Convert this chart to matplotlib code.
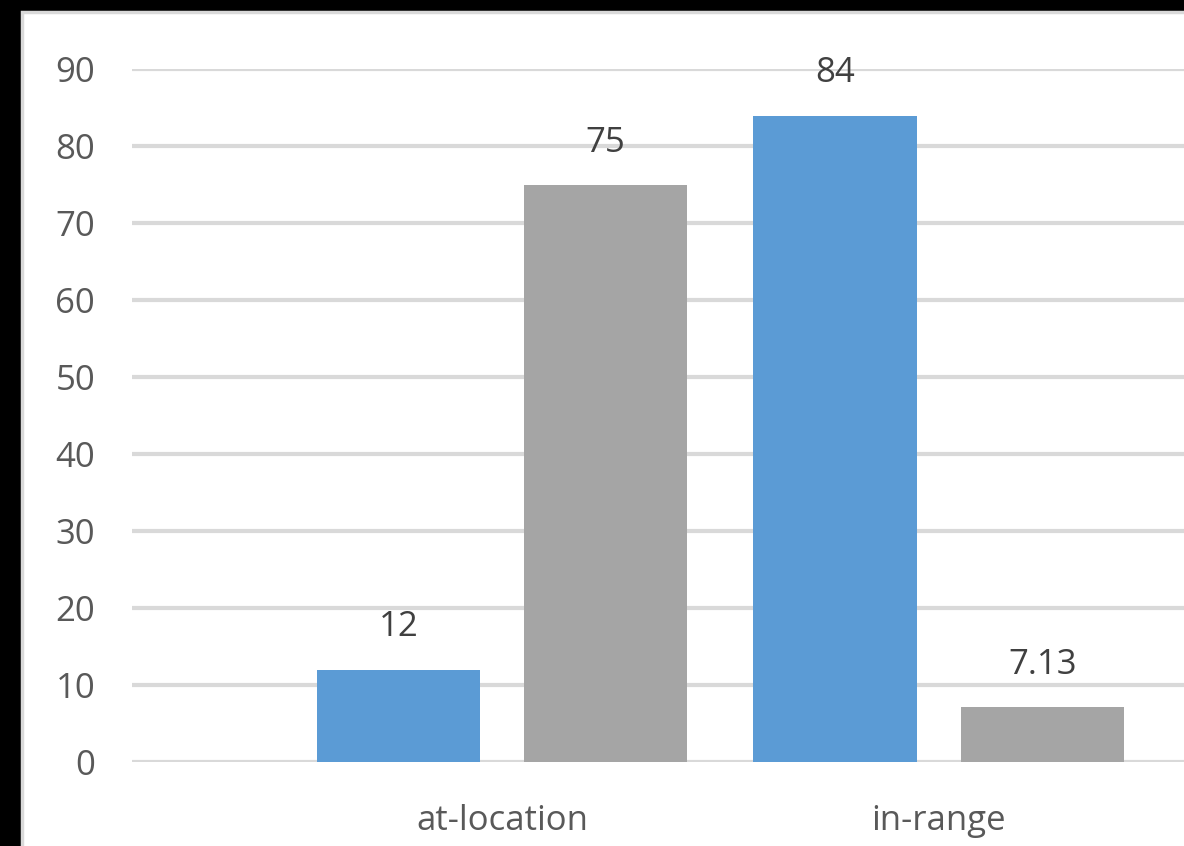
import matplotlib.pyplot as plt
import numpy as np
from matplotlib.patches import Rectangle

categories = ['at-location', 'in-range']
series_blue = [12, 84]
series_gray = [75, 7.13]
value_labels_blue = ['12', '84']
value_labels_gray = ['75', '7.13']
yticks = [0, 10, 20, 30, 40, 50, 60, 70, 80, 90]

plt.rcParams['font.family'] = ['Open Sans', 'DejaVu Sans']

fig = plt.figure(figsize=(11.84, 8.46), dpi=100, facecolor='black')

# white chart area with light border, black frame left/top
fig.patches.append(Rectangle((22/1184, -0.01), 1.0, (846-12)/846 + 0.01,
                             transform=fig.transFigure, facecolor='white',
                             edgecolor='#d9d9d9', linewidth=2.5, zorder=-5))

ax = fig.add_axes([132/1184, (846-762)/846, (1184-132)/1184, (762-69.5)/846])
ax.set_zorder(2)
ax.set_facecolor('none')

x = np.arange(len(categories))
w = 0.375
off = 0.237
b1 = ax.bar(x - off, series_blue, w, color='#5b9bd5', zorder=3)
b2 = ax.bar(x + off, series_gray, w, color='#a5a5a5', zorder=3)

for bars, labs in ((b1, value_labels_blue), (b2, value_labels_gray)):
    for r, t in zip(bars, labs):
        ax.annotate(t, (r.get_x() + r.get_width()/2, r.get_height()),
                    xytext=(0, 24), textcoords='offset points',
                    ha='center', va='baseline', fontsize=25, color='#404040',
                    annotation_clip=False)

ax.set_xlim(-0.847, 1.561)
ax.set_ylim(0, 90)
ax.set_yticks(yticks)
ax.set_xticks(x)
ax.set_xticklabels(categories)
ax.yaxis.grid(True, color='#d9d9d9', linewidth=3)
ax.set_axisbelow(True)
for s in ax.spines.values():
    s.set_visible(False)
ax.tick_params(axis='both', length=0, labelsize=25, labelcolor='#595959')
ax.tick_params(axis='y', pad=26.5)
ax.tick_params(axis='x', pad=30)
ax.get_xticklabels()[0].set_x(-0.012)

plt.savefig('out.png', dpi=100, facecolor=fig.get_facecolor())
